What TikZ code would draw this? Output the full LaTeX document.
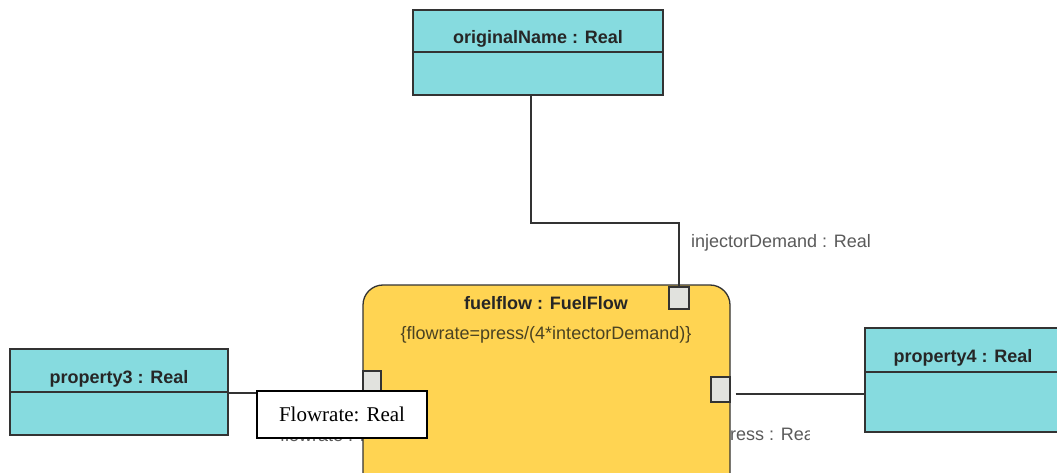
\documentclass[tikz,border=0pt]{standalone}
\usepackage{fontspec}
\setmainfont{Liberation Serif}
\newfontfamily\umlfont{Liberation Sans}
\usetikzlibrary{positioning}

\definecolor{classcyan}{HTML}{86DBDF}
\definecolor{partyellow}{HTML}{FFD452}
\definecolor{portgrey}{HTML}{E1E2DE}
\definecolor{edgegrey}{HTML}{333333}
\definecolor{labelgrey}{HTML}{5A5A5A}
\definecolor{inkolive}{HTML}{4A4222}

\tikzset{
  classbox/.style={draw=edgegrey, fill=classcyan, line width=1.3pt, inner sep=0pt},
  classline/.style={draw=edgegrey, line width=1.3pt},
  classtitle/.style={font=\umlfont\bfseries\fontsize{18}{20}\selectfont, text=black!85},
  partbox/.style={draw=edgegrey, fill=partyellow, line width=1.3pt, rounded corners=20pt, inner sep=0pt},
  portbox/.style={draw=edgegrey, fill=portgrey, line width=1.3pt, inner sep=0pt},
  wire/.style={draw=edgegrey, line width=1.3pt},
  portlabel/.style={font=\umlfont\fontsize{18}{20}\selectfont, text=labelgrey, inner sep=0pt},
  notebox/.style={draw=black, fill=white, line width=1.1pt, font=\fontsize{21}{24}\selectfont,
    minimum width=170pt, minimum height=47pt, inner sep=0pt}
}

\begin{document}
\begin{tikzpicture}[x=1pt, y=-1pt]
    \clip (0,0) rectangle (1057,473);
    \fill[white] (0,0) rectangle (1057,473);

    % classes
    \node[classbox, minimum width=250pt, minimum height=85pt] (orig) at (538,52.5) {};
    \draw[classline] (orig.west |- 0,52) -- (orig.east |- 0,52);
    \node[classtitle] at (538,39) {originalName : Real};

    \node[classbox, minimum width=218pt, minimum height=86pt] (prop3) at (119,392) {};
    \draw[classline] (prop3.west |- 0,392) -- (prop3.east |- 0,392);
    \node[classtitle] at (119,379) {property3 : Real};

    \node[classbox, minimum width=230pt, minimum height=104pt] (prop4) at (980,380) {};
    \draw[classline] (prop4.west |- 0,372) -- (prop4.east |- 0,372);
    \node[classtitle] at (963,358) {property4 : Real};

    % port labels (partly hidden by the part)
    \node[portlabel, anchor=base west] (flowlbl) at (280,441) {flowrate : Real};
    \begin{scope}
        \clip (700,410) rectangle (809,455);
        \node[portlabel, anchor=base west] (presslbl) at (720,440) {press : Real};
    \end{scope}
    \node[portlabel] (injlbl) at (781,243) {injectorDemand : Real};

    % part with its ports
    \node[partbox, minimum width=367pt, minimum height=240pt] (fuel) at (546.5,405) {};
    \node[classtitle] at (546,303) {fuelflow : FuelFlow};
    \node[font=\umlfont\fontsize{18}{20}\selectfont, text=inkolive] at (546,335)
        {\{flowrate=press/(4*intectorDemand)\}};

    \node[portbox, minimum width=20pt, minimum height=22pt] (inj) at (679,298) {};
    \node[portbox, minimum width=18pt, minimum height=24pt] (inlet) at (372,383) {};
    \node[portbox, minimum width=19pt, minimum height=25pt] (outlet) at (720.5,389.5) {};

    % connectors
    \coordinate (bend) at (531,223);
    \draw[wire] (orig.south -| bend) -- (bend) -| (inj.north);
    \draw[wire] (prop3.east |- 0,393) -- (inlet.west |- 0,393);
    \draw[wire] ([xshift=5pt]outlet.east |- 0,394) -- (prop4.west |- 0,394);

    % note
    \node[notebox] (note) at (342,414.5) {Flowrate: Real};
\end{tikzpicture}
\end{document}
